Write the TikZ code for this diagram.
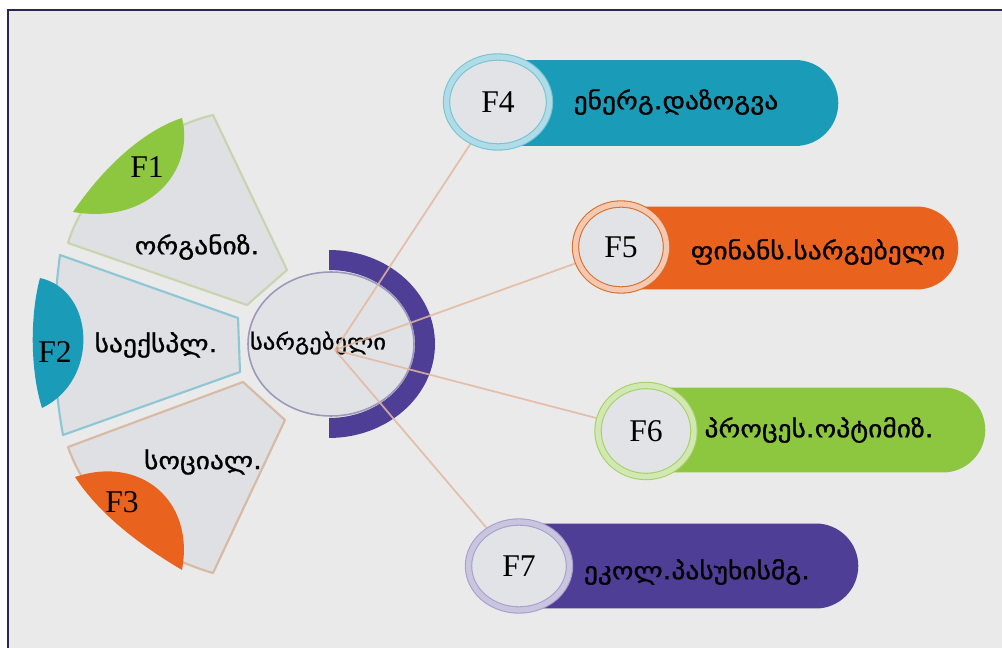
\documentclass[tikz,border=0pt]{standalone}
\usepackage{fontspec}
\setmainfont{Liberation Serif}
\newfontfamily\geo[FakeStretch=1.15, FakeBold=1]{DejaVu Sans}
\usetikzlibrary{positioning, shapes.geometric, shapes.misc}
\pgfdeclarelayer{front}
\pgfsetlayers{main,front}

\definecolor{bggray}{HTML}{EAEAEA}
\definecolor{framecol}{HTML}{2B2650}
\definecolor{segfill}{HTML}{DFE0E3}
\definecolor{segone}{HTML}{C9D3AE}
\definecolor{segtwo}{HTML}{8DC7D3}
\definecolor{segthree}{HTML}{D8B9A4}
\definecolor{fgreen}{HTML}{8DC63F}
\definecolor{fteal}{HTML}{1A9BB8}
\definecolor{forange}{HTML}{E9621E}
\definecolor{fpurple}{HTML}{4F3E96}
\definecolor{hubfill}{HTML}{E1E2E6}
\definecolor{hubline}{HTML}{9C98B8}
\definecolor{linkcol}{HTML}{E2B89E}
\definecolor{cgray}{HTML}{E2E3E7}

\begin{document}
\begin{tikzpicture}[x=0.02cm, y=-0.02cm,
  seg/.style={fill=segfill, line width=1.2pt, line join=round},
  flabel/.style={font=\fontsize{18}{18}\selectfont, inner sep=0},
  gtext/.style={font=\geo\fontsize{13.6}{15}\selectfont, inner sep=0},
  fcirc/.style 2 args={ellipse, draw=#1, double=#2, double distance=3pt, line width=0.6pt, fill=cgray, inner sep=0, font=\fontsize{18}{18}\selectfont},
  pill/.style={rounded rectangle, rounded rectangle left arc=none, inner sep=0, anchor=west},
  link/.style={draw=linkcol, line width=1pt, opacity=0.85}]
\useasboundingbox (0,0) rectangle (1002,648);
\fill[white] (0,0) rectangle (1002,648);
\fill[bggray] (8,10) rectangle (1002,648);
\draw[framecol, line width=1.3pt] (8,648) -- (8,10) -- (1002,10);

% left fan
\draw[seg, draw=segone] (213,115) -- (287,270) -- (247,305) -- (68,243) .. controls (85,185) and (150,130) .. (213,115) -- cycle;
\draw[seg, draw=segtwo] (60,255) -- (238,318) -- (240,372) -- (63,435) .. controls (52,375) and (52,315) .. (60,255) -- cycle;
\draw[seg, draw=segthree] (68,447) -- (243,382) -- (285,420) -- (213,573) .. controls (150,555) and (90,510) .. (68,447) -- cycle;
\fill[fgreen] (73,212) .. controls (105,165) and (145,130) .. (182,118) .. controls (195,170) and (150,225) .. (73,212) -- cycle;
\fill[fteal] (40,278) .. controls (95,290) and (100,380) .. (42,408) .. controls (30,370) and (30,315) .. (40,278) -- cycle;
\fill[forange] (75,477) .. controls (140,455) and (195,500) .. (182,570) .. controls (140,545) and (100,515) .. (75,477) -- cycle;
\node[flabel] (l1) at (147,167) {F1};
\node[flabel] (l2) at (55,352) {F2};
\node[flabel] (l3) at (122,502) {F3};
\node[gtext] (s1) at (197,247) {ორგანიზ.};
\node[gtext] (s2) at (156,345) {საექსპლ.};
\node[gtext] (s3) at (203,462) {სოციალ.};

% hub
\node[ellipse, fill=hubfill, draw=hubline, line width=0.9pt, minimum width=3.32cm, minimum height=2.88cm] (hub) at (331,344) {};
\fill[fpurple] (329,250) arc[start angle=90, end angle=-90, x radius=2.12cm, y radius=1.88cm]
  -- (329,418) arc[start angle=-90, end angle=90, x radius=1.72cm, y radius=1.48cm] -- cycle;
\node[gtext, font=\geo\fontsize{12.2}{14}\selectfont] (hubtxt) at (318,343) {სარგებელი};
\coordinate (hubc) at (335,350);

% right side
\begin{pgfonlayer}{front}
\node[pill, fill=fteal, minimum width=6.8cm, minimum height=1.72cm] (p4) at (498,103) {};
\node[pill, fill=forange, minimum width=6.74cm, minimum height=1.66cm] (p5) at (621,248) {};
\node[pill, fill=fgreen, minimum width=6.78cm, minimum height=1.7cm] (p6) at (646,430) {};
\node[pill, fill=fpurple, minimum width=6.78cm, minimum height=1.7cm] (p7) at (519,566) {};

\node[fcirc={fteal!60}{fteal!35}, minimum width=2.06cm, minimum height=1.8cm] (f4) at (498,102) {F4};
\node[fcirc={forange!55!brown}{forange!35}, minimum width=1.82cm, minimum height=1.72cm] (f5) at (621,247) {F5};
\node[fcirc={fgreen!80}{fgreen!40}, minimum width=1.92cm, minimum height=1.82cm] (f6) at (646,431) {F6};
\node[fcirc={fpurple!50}{fpurple!30}, minimum width=2.02cm, minimum height=1.76cm] (f7) at (519,566) {F7};

\node[gtext] (t4) at (676,102) {ენერგ.დაზოგვა};
\node[gtext] (t5) at (818,252) {ფინანს.სარგებელი};
\node[gtext] (t6) at (819,430) {პროცეს.ოპტიმიზ.};
\node[gtext] (t7) at (697,572) {ეკოლ.პასუხისმგ.};
\end{pgfonlayer}

\draw[link] (hubc) -- (f4);
\draw[link] (hubc) -- (f5);
\draw[link] (hubc) -- (f6);
\draw[link] (hubc) -- (f7);
\end{tikzpicture}
\end{document}
